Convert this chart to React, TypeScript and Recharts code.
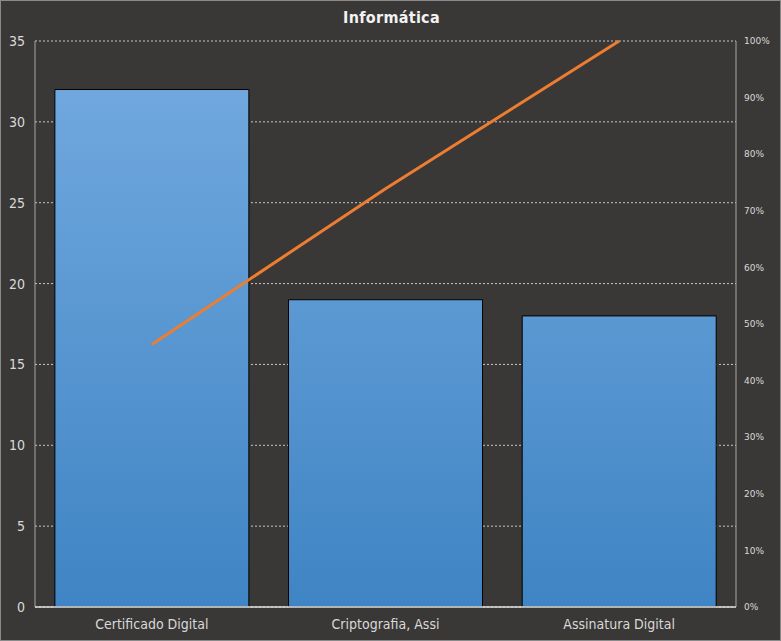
import React from 'react';
import {
  ComposedChart,
  Bar,
  Line,
  XAxis,
  YAxis,
  CartesianGrid,
} from 'recharts';

const categories = ['Certificado Digital', 'Criptografia, Assi', 'Assinatura Digital'];
const counts = [32, 19, 18];
const countTicks = [0, 5, 10, 15, 20, 25, 30, 35];
const percentTicks = [0, 0.1, 0.2, 0.3, 0.4, 0.5, 0.6, 0.7, 0.8, 0.9, 1];

const total = counts.reduce((a, b) => a + b, 0);
let running = 0;
const data = categories.map((name, i) => {
  running += counts[i];
  return { name, count: counts[i], cumulative: running / total };
});

const FONT = "'Liberation Sans Narrow', 'DejaVu Sans Condensed', Lato, sans-serif";
const TEXT = '#d9d9d9';

export default function App() {
  return (
    <div
      style={{
        position: 'absolute',
        left: 0,
        top: 0,
        width: 781,
        height: 641,
        background: '#3a3836',
        border: '1px solid #8a8a8a',
        boxSizing: 'border-box',
        fontFamily: FONT,
      }}
    >
      <div
        style={{
          position: 'absolute',
          left: 0,
          top: 7,
          width: 781,
          textAlign: 'center',
          color: '#f2f2f2',
          fontSize: 16,
          fontWeight: 'bold',
          fontFamily: FONT,
          letterSpacing: 0.3,
        }}
      >
        Informática
      </div>
      <div style={{ position: 'absolute', left: -1, top: -1 }}>
        <ComposedChart
          width={781}
          height={641}
          data={data}
          margin={{ top: 41, right: 0, bottom: 0, left: 0 }}
          barCategoryGap="8.5%"
        >
          <defs>
            <linearGradient id="barFill" gradientUnits="userSpaceOnUse" x1="0" y1="41" x2="0" y2="607">
              <stop offset="0%" stopColor="#74abe0" />
              <stop offset="100%" stopColor="#3f84c4" />
            </linearGradient>
          </defs>
          <CartesianGrid
            vertical={false}
            horizontal
            yAxisId="left"
            stroke="#c8c8c8"
            strokeDasharray="2 2"
          />
          <XAxis
            dataKey="name"
            height={34}
            axisLine={{ stroke: '#e0e0e0', strokeWidth: 1.5 }}
            tickLine={false}
            tick={{ fill: TEXT, fontSize: 14, fontFamily: FONT }}
            tickMargin={6}
          />
          <YAxis
            yAxisId="left"
            orientation="left"
            width={35}
            domain={[0, 35]}
            ticks={countTicks}
            interval={0}
            axisLine={{ stroke: '#a6a6a6' }}
            tickLine={false}
            tick={{ fill: TEXT, fontSize: 14, fontFamily: FONT }}
            tickMargin={4}
          />
          <YAxis
            yAxisId="right"
            orientation="right"
            width={45}
            domain={[0, 1]}
            ticks={percentTicks}
            interval={0}
            axisLine={{ stroke: '#a6a6a6' }}
            tickLine={false}
            tick={{ fill: TEXT, fontSize: 9, fontFamily: 'DejaVu Sans, sans-serif' }}
            tickFormatter={(v: number) => `${Math.round(v * 100)}%`}
            tickMargin={2}
          />
          <Bar
            yAxisId="left"
            dataKey="count"
            fill="url(#barFill)"
            stroke="#000000"
            strokeWidth={1}
            isAnimationActive={false}
          />
          <Line
            yAxisId="right"
            dataKey="cumulative"
            stroke="#ed7d31"
            strokeWidth={3}
            dot={false}
            activeDot={false}
            isAnimationActive={false}
          />
        </ComposedChart>
      </div>
    </div>
  );
}
